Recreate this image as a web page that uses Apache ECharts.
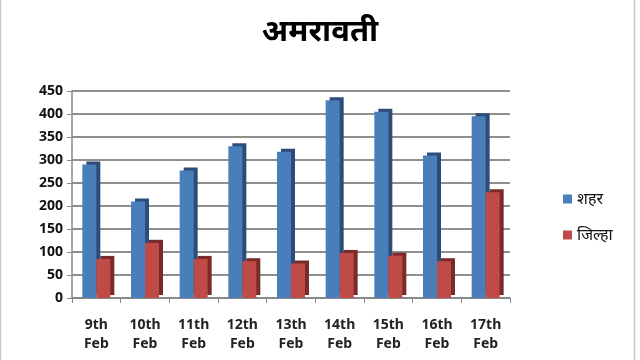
<!DOCTYPE html>
<html><head><meta charset="utf-8">
<script src="https://cdn.jsdelivr.net/npm/echarts@6/dist/echarts.min.js"></script>
<style>html,body{margin:0;padding:0;background:#fff}#c{width:640px;height:360px}</style>
</head><body><div id="c"></div>
<script>
const title = 'अमरावती';
const categories = ['9th\nFeb','10th\nFeb','11th\nFeb','12th\nFeb','13th\nFeb','14th\nFeb','15th\nFeb','16th\nFeb','17th\nFeb'];
const seriesNames = ['शहर','जिल्हा'];
const cityValues = [290, 210, 277, 330, 318, 430, 405, 310, 395];
const districtValues = [85, 120, 85, 80, 75, 98, 92, 80, 230];

const chart = echarts.init(document.getElementById('c'));
const font = '"Noto Sans", "DejaVu Sans", sans-serif';
chart.setOption({
  animation: false,
  textStyle: {fontFamily: font},
  graphic: [{type:'rect', shape:{x:0.5, y:-5, width:634, height:380}, style:{fill:'none', stroke:'#c8c8c8', lineWidth:1.5}, silent:true}],
  title: {text: title, left: 'center', top: 12, textStyle:{fontSize:31, fontWeight:'bold', color:'#000', fontFamily: font}},
  legend: {orient:'vertical', left: 558, top: 186, itemWidth:9, itemHeight:9, itemGap:20, icon:'rect',
    textStyle:{fontSize:16, color:'#111', fontFamily: font}},
  grid: {left: 72, right: 130, top: 91, bottom: 62},
  xAxis: {type:'category', data: categories,
    axisLine:{lineStyle:{color:'#888', width:1.5}}, axisTick:{show:true, lineStyle:{color:'#888'}},
    axisLabel:{fontSize:14, fontWeight:'bold', color:'#222', lineHeight:19, margin:18}},
  yAxis: {type:'value', min:0, max:450, interval:50,
    axisLine:{show:true, lineStyle:{color:'#888', width:1.5}}, axisTick:{show:true, lineStyle:{color:'#888'}},
    splitLine:{lineStyle:{color:'#8f8f8f', width:1.8}},
    axisLabel:{fontSize:14, fontWeight:'bold', color:'#111', margin:9}},
  series: [
    {name: seriesNames[0], type:'bar', data: cityValues, barWidth:14, barGap:'0%',
     itemStyle:{color:'#4a7ebb', shadowColor:'#2c4d7a', shadowOffsetX:4, shadowOffsetY:-3, shadowBlur:0}},
    {name: seriesNames[1], type:'bar', data: districtValues, barWidth:14,
     itemStyle:{color:'#be4b48', shadowColor:'#7a2a28', shadowOffsetX:4, shadowOffsetY:-3, shadowBlur:0}}
  ]
});
</script></body></html>
